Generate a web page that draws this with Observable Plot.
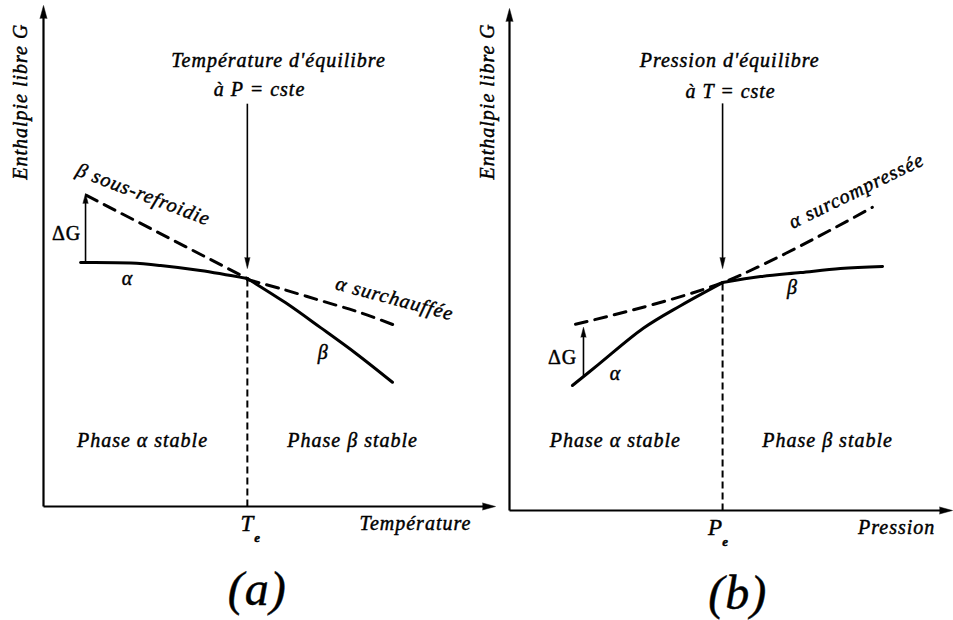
<!DOCTYPE html>
<html><head><meta charset="utf-8">
<script src="https://cdn.jsdelivr.net/npm/d3@7"></script>
<script src="https://cdn.jsdelivr.net/npm/@observablehq/plot@0.6"></script>
<style>
body{margin:0;background:#fff}
#wrap{position:relative;width:953px;height:620px;overflow:hidden;background:#fff}
#wrap svg{position:absolute;top:0;overflow:visible}
#wrap svg text{font-family:"Liberation Serif","Times New Roman",serif !important;letter-spacing:1px}
</style></head><body><div id="wrap"></div>
<script>
// ================= DATA (axis units 0–100 on each panel) =================
// Panel (a): free enthalpy G vs temperature, P constant
const aTe = 45.1;          // equilibrium temperature
const aGe = 45.5;          // G at equilibrium
const aAlphaT = [8.2, 19.3, 25.9, 34.7, 45.1];
const aAlphaG = [48.7, 48.6, 48.1, 47.1, 45.5];
const aBetaT = [45.1, 53.5, 61.3, 69.2, 77.2];
const aBetaG = [45.5, 40.7, 35.7, 30.5, 24.8];
const aBetaSousRefT = [9.5, 45.1];          // β sous-refroidie (dashed)
const aBetaSousRefG = [62.1, 45.5];
const aAlphaSurchT = [45.1, 52.4, 61.3, 70.1, 77.9];   // α surchauffée (dashed)
const aAlphaSurchG = [45.3, 43.5, 41.1, 38.7, 36.1];
const aDeltaGAt = 9.3, aDeltaGFrom = 48.7, aDeltaGTo = 62.5;
const aPointerTop = 80.4, aPointerTip = 47.5;

// Panel (b): free enthalpy G vs pressure, T constant
const bPe = 48.1;
const bGe = 45.4;
const bAlphaP = [14.2, 20.1, 30.2, 38.6, 48.1];
const bAlphaG = [24.9, 29.1, 36.3, 40.8, 45.4];
const bBetaP = [48.1, 56.7, 65.7, 74.7, 84.2];
const bBetaG = [45.4, 46.6, 47.4, 48.2, 48.6];
const bAlphaSurcompP = [14.9, 48.1, 81.9];  // α surcompressée (dashed)
const bAlphaSurcompG = [37.1, 45.4, 60.4];
const bDeltaGAt = 16.7, bDeltaGFrom = 26.9, bDeltaGTo = 36.5;
const bPointerTop = 81.1, bPointerTip = 48.2;

// Labels
const aLabelText = ["Température d'équilibre", "à P = cste", "β sous-refroidie", "α", "α surchauffée", "β",
  "Phase α stable", "Phase β stable", "Température", "Enthalpie libre G"];
const aLabelX = [52.0, 47.8, 22.1, 18.6, 77.7, 61.9, 21.9, 68.4, 82.3, -5.1];
const aLabelY = [89.0, 83.2, 62.3, 45.5, 41.5, 30.7, 13.2, 13.2, -3.4, 80.8];
const aLabelRot = [0, 0, 21, 0, 15, 0, 0, 0, 0, -90];

const bLabelText = ["Pression d'équilibre", "à T = cste", "α surcompressée", "β", "α",
  "Phase α stable", "Phase β stable", "Pression", "Enthalpie libre G"];
const bLabelX = [49.7, 49.9, 78.3, 63.9, 23.9, 23.9, 71.8, 87.4, -5.0];
const bLabelY = [89.6, 83.5, 63.7, 44.4, 27.3, 13.9, 13.9, -3.4, 81.5];
const bLabelRot = [0, 0, -26, 0, 0, 0, 0, 0, -90];

// ================= DRAWING =================
const H = 620;
const wrap = document.getElementById("wrap");
const serif = "Liberation Serif";
const zip = (xs, ys) => xs.map((x, i) => ({x, y: ys[i]}));
const labels = (t, x, y, r) => t.map((s, i) => ({text: s, x: x[i], y: y[i], r: r[i]}));

function panelMarks(o) {
  const solid = {x: "x", y: "y", stroke: "black", strokeWidth: 3, curve: "catmull-rom", strokeLinecap: "round"};
  const dashed = {x: "x", y: "y", stroke: "black", strokeWidth: 3, curve: "catmull-rom", strokeDasharray: "12,8"};
  const head = (len, r) => ({x: "x", y: "y", rotate: "r", length: len, r, shape: "spike", anchor: "end",
    fill: "black", stroke: "black", strokeWidth: 0.5});
  const ink = {fill: "black", stroke: "black", strokeWidth: 0.45, fontFamily: serif};
  return [
    // axes
    Plot.link([{x1: 0, y1: 0, x2: 98, y2: 0}, {x1: 0, y1: 0, x2: 0, y2: 98}],
      {x1: "x1", y1: "y1", x2: "x2", y2: "y2", stroke: "black", strokeWidth: 2.2}),
    Plot.vector([{x: 100, y: 0, r: 90}, {x: 0, y: 100, r: 0}], head(13, 3.5)),
    // equilibrium dashed rule
    Plot.link([{x: o.xe, y1: 0, y2: o.ge}], {x1: "x", x2: "x", y1: "y1", y2: "y2",
      stroke: "black", strokeWidth: 2, strokeDasharray: "7,4"}),
    // pointer arrow
    Plot.link([{x: o.xe, y1: o.ptTop, y2: o.ptTip + 2}], {x1: "x", x2: "x", y1: "y1", y2: "y2",
      stroke: "black", strokeWidth: 1.6}),
    Plot.vector([{x: o.xe, y: o.ptTip, r: 180}], head(11, 2.6)),
    // ΔG arrow
    Plot.link([{x: o.dgAt, y1: o.dgFrom, y2: o.dgTo - 1.5}], {x1: "x", x2: "x", y1: "y1", y2: "y2",
      stroke: "black", strokeWidth: 1.6}),
    Plot.vector([{x: o.dgAt, y: o.dgTo, r: 0}], head(10, 2.6)),
    // curves
    ...o.solids.map(d => Plot.line(d, solid)),
    ...o.dashes.map(d => Plot.line(d, dashed)),
    // labels
    Plot.text(o.labels, {x: "x", y: "y", text: "text", rotate: "r", fontSize: 20,
      fontStyle: "italic", ...ink}),
    Plot.text([{x: o.dgLabelX, y: o.dgLabelY}], {x: "x", y: "y", text: () => "ΔG", fontSize: 20, ...ink}),
    Plot.text([{x: o.subX, y: -3.4}], {x: "x", y: "y", text: () => o.sym, fontSize: 23,
      fontStyle: "italic", ...ink}),
    Plot.text([{x: o.subX + 2.3, y: -6.2}], {x: "x", y: "y", text: () => "e", fontSize: 13,
      fontStyle: "italic", fontWeight: "bold", ...ink}),
    Plot.text([{x: o.capX, y: -16.5}], {x: "x", y: "y", text: () => o.cap, fontSize: 48,
      fontStyle: "italic", ...ink})
  ];
}

function panel(left, width, mL, mR, mT, mB, marks) {
  const svg = Plot.plot({
    width, height: H, marginLeft: mL, marginRight: mR, marginTop: mT, marginBottom: mB,
    x: {domain: [0, 100], axis: null}, y: {domain: [0, 100], axis: null},
    style: {background: "transparent", overflow: "visible"},
    marks
  });
  svg.style.left = left + "px";
  wrap.append(svg);
}

panel(0, 500, 43, 5, 5, 114, panelMarks({
  xe: aTe, ge: aGe, ptTop: aPointerTop, ptTip: aPointerTip,
  dgAt: aDeltaGAt, dgFrom: aDeltaGFrom, dgTo: aDeltaGTo, dgLabelX: 5.1, dgLabelY: 54.5,
  solids: [zip(aAlphaT, aAlphaG), zip(aBetaT, aBetaG)],
  dashes: [zip(aBetaSousRefT, aBetaSousRefG), zip(aAlphaSurchT, aAlphaSurchG)],
  labels: labels(aLabelText, aLabelX, aLabelY, aLabelRot),
  subX: aTe, sym: "T", capX: 47.3, cap: "(a)"
}));

panel(470, 483, 39, 1, 8, 110, panelMarks({
  xe: bPe, ge: bGe, ptTop: bPointerTop, ptTip: bPointerTip,
  dgAt: bDeltaGAt, dgFrom: bDeltaGFrom, dgTo: bDeltaGTo, dgLabelX: 12.0, dgLabelY: 30.5,
  solids: [zip(bAlphaP, bAlphaG), zip(bBetaP, bBetaG)],
  dashes: [zip(bAlphaSurcompP, bAlphaSurcompG)],
  labels: labels(bLabelText, bLabelX, bLabelY, bLabelRot),
  subX: 46.5, sym: "P", capX: 51.5, cap: "(b)"
}));
</script></body></html>
